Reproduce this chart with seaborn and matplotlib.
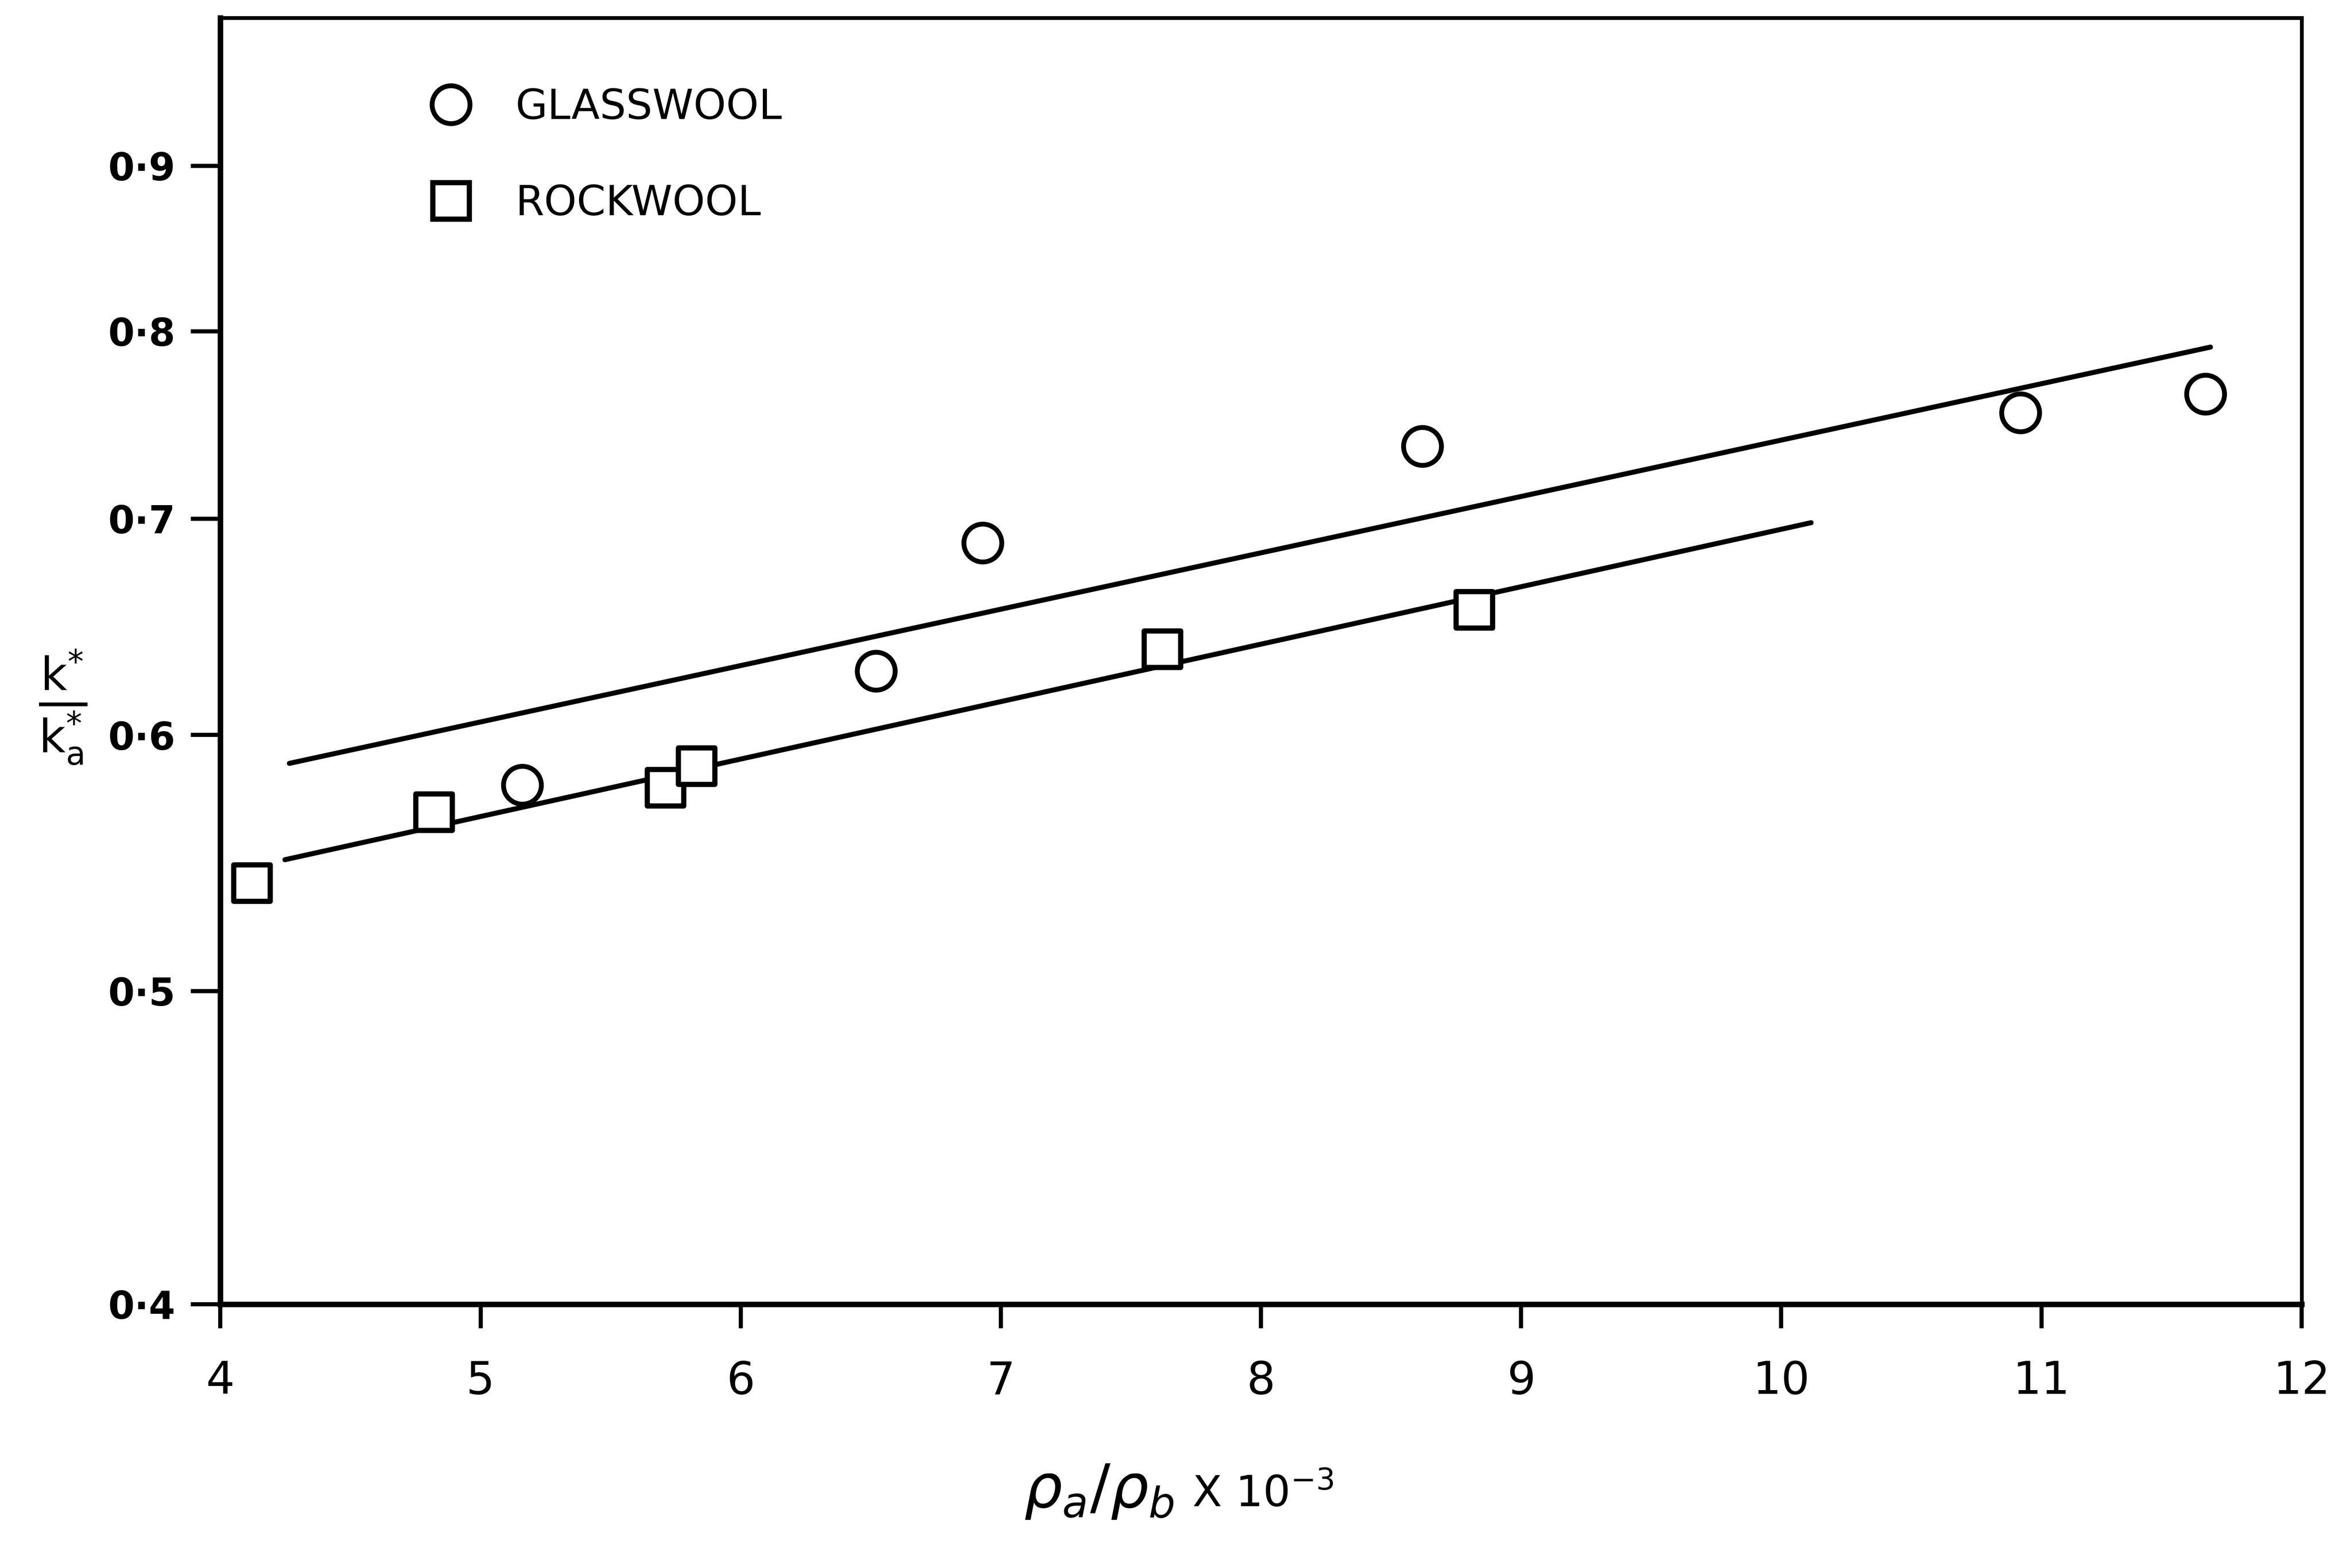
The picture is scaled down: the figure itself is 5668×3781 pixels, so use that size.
import numpy as np
import pandas as pd
import matplotlib
matplotlib.use("Agg")
import matplotlib.pyplot as plt
import seaborn as sns
from matplotlib.lines import Line2D
from matplotlib.ticker import NullLocator

# Measured ratios k*/k_a* against density ratio rho_a/rho_b (x 10^-3)
glass_x = [5.16, 6.52, 6.93, 8.62, 10.92, 11.63]
glass_y = [0.579, 0.628, 0.688, 0.737, 0.755, 0.765]
rock_x = [4.12, 4.82, 5.71, 5.83, 7.62, 8.82]
rock_y = [0.540, 0.568, 0.578, 0.587, 0.638, 0.656]

# Fitted lines (end points)
glass_fit_x = [4.265, 11.65]
glass_fit_y = [0.588, 0.791]
rock_fit_x = [4.248, 10.115]
rock_fit_y = [0.549, 0.698]

x_ticks = [4, 5, 6, 7, 8, 9, 10, 11, 12]
y_ticks = [0.4, 0.5, 0.6, 0.7, 0.8, 0.9]
y_tick_labels = ["0·4", "0·5", "0·6", "0·7", "0·8", "0·9"]
series_names = ["GLASSWOOL", "ROCKWOOL"]

sns.set_theme(style="ticks")
plt.rcParams["font.family"] = ["DejaVu Sans"]
plt.rcParams["mathtext.fontset"] = "dejavusans"
plt.rcParams["text.color"] = "black"
plt.rcParams["axes.labelcolor"] = "black"

fig = plt.figure(figsize=(5668 / 300, 3781 / 300), dpi=300)
ax = fig.add_axes([147 / 1568, 1 - 870 / 1046, (1535 - 147) / 1568, (870 - 12) / 1046])

df = pd.DataFrame({
    "x": glass_x + rock_x,
    "y": glass_y + rock_y,
    "material": [series_names[0]] * len(glass_x) + [series_names[1]] * len(rock_x),
})

# fitted lines first so the hollow markers sit on top of them
ax.plot(glass_fit_x, glass_fit_y, color="black", lw=2.9, solid_capstyle="round", zorder=2)
ax.plot(rock_fit_x, rock_fit_y, color="black", lw=2.9, solid_capstyle="round", zorder=2)

sns.scatterplot(data=df[df.material == series_names[0]], x="x", y="y", marker="o",
                s=480, facecolor="white", edgecolor="black", linewidth=2.8,
                ax=ax, zorder=3, legend=False)
sns.scatterplot(data=df[df.material == series_names[1]], x="x", y="y", marker="s",
                s=440, facecolor="white", edgecolor="black", linewidth=3.0,
                ax=ax, zorder=3, legend=False)

ax.set_yscale("log")
ax.set_xlim(4, 12)
ax.set_ylim(0.4, 1.0)
ax.set_xticks(x_ticks)
ax.set_xticklabels([str(v) for v in x_ticks], fontsize=26,
                   family=["Liberation Sans Narrow", "DejaVu Sans"])
ax.set_yticks(y_ticks)
ax.set_yticklabels(y_tick_labels, fontsize=22, fontweight="bold")
ax.yaxis.set_minor_locator(NullLocator())
ax.xaxis.set_minor_locator(NullLocator())
ax.tick_params(axis="y", direction="out", length=17, width=2.4, pad=9, colors="black")
ax.tick_params(axis="x", direction="out", length=14, width=2.4, pad=18, colors="black")

for side in ["left", "bottom"]:
    ax.spines[side].set_linewidth(3.2)
for side in ["top", "right"]:
    ax.spines[side].set_linewidth(2.2)
for sp in ax.spines.values():
    sp.set_color("black")

ax.set_xlabel(r"$\rho_{a}/\rho_{b}$", fontsize=35)
ax.xaxis.set_label_coords((733 - 147) / 1388, -(995 - 870) / 858)
ax.xaxis.label.set_verticalalignment("center")
ax.text((795 - 147) / 1388, -(1005 - 870) / 858, r"X 10$^{-3}$", fontsize=25,
        transform=ax.transAxes, ha="left", va="baseline")
ax.set_ylabel("")

fig.text(42 / 1568, 1 - 472 / 1046, r"$\frac{\mathrm{k}^{*}}{\mathrm{k}_{\mathrm{a}}^{*}}$",
         fontsize=38, ha="center", va="center")

handles = [
    Line2D([], [], ls="none", marker="o", markersize=np.sqrt(480), markerfacecolor="white",
           markeredgecolor="black", markeredgewidth=2.8),
    Line2D([], [], ls="none", marker="s", markersize=np.sqrt(440), markerfacecolor="white",
           markeredgecolor="black", markeredgewidth=3.0),
]
ax.legend(handles, series_names, loc="upper left", bbox_to_anchor=(0.0958, 0.946),
          frameon=False, fontsize=24, handlelength=1.5, handletextpad=0.8,
          labelspacing=1.35, borderaxespad=0, borderpad=0, labelcolor="black")

fig.savefig("out.png", dpi=300, facecolor="white")
